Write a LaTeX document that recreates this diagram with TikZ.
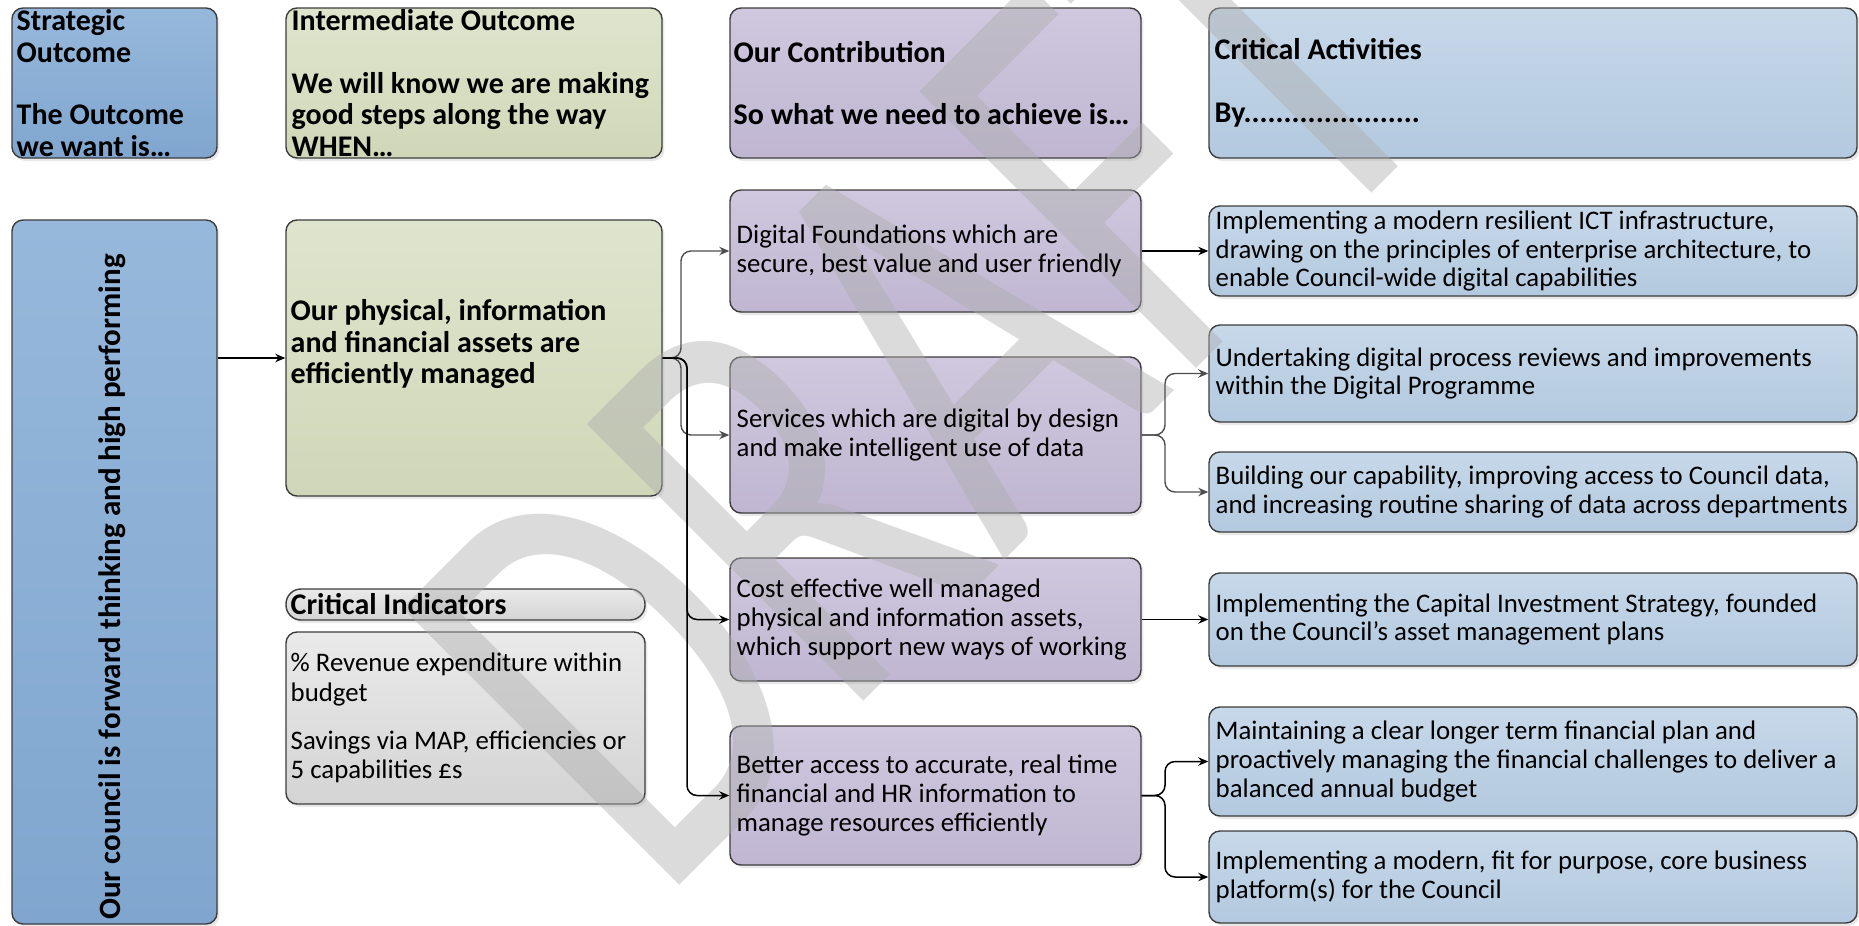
\documentclass[tikz,border=0pt]{standalone}
\usepackage{fontspec}
\usepackage{graphicx}
\setmainfont{Carlito}
\usetikzlibrary{arrows.meta,shadows,calc}
\definecolor{soT}{HTML}{96B8DB}
\definecolor{soB}{HTML}{80A6CF}
\definecolor{grT}{HTML}{DFE5CD}
\definecolor{grB}{HTML}{D0D7B8}
\definecolor{puT}{HTML}{CFC8DE}
\definecolor{puB}{HTML}{C0B6D2}
\definecolor{blT}{HTML}{C7D8E9}
\definecolor{blB}{HTML}{B3C9DF}
\definecolor{gyT}{HTML}{EAEAEA}
\definecolor{gyB}{HTML}{D4D4D4}
\definecolor{bordc}{HTML}{3C3C3C}
\definecolor{congray}{HTML}{4D4D4D}
\definecolor{wmc}{HTML}{ADADAD}
\tikzset{
  bx/.style={draw=bordc, line width=0.7pt, rounded corners=5.5pt, inner sep=0pt,
    drop shadow={shadow xshift=1.2pt, shadow yshift=-1.5pt, opacity=0.18}},
  sobox/.style={bx, top color=soT, bottom color=soB},
  grbox/.style={bx, top color=grT, bottom color=grB},
  pubox/.style={bx, top color=puT, bottom color=puB},
  blbox/.style={bx, top color=blT, bottom color=blB},
  gybox/.style={bx, top color=gyT, bottom color=gyB},
  hdr/.style={anchor=west, align=left, inner sep=0pt, font=\fontsize{15}{15.7}\selectfont\bfseries},
  bodyt/.style={anchor=west, align=left, inner sep=0pt, font=\fontsize{13.4}{14.3}\selectfont},
  conk/.style={draw=black, line width=0.75pt, rounded corners=5pt, -{Stealth[length=5pt,width=4.2pt]}},
  cong/.style={conk, draw=congray, line width=0.7pt},
}
\begin{document}
\begin{tikzpicture}[x=0.5pt,y=-0.5pt]
\useasboundingbox (0,0) rectangle (1859,926);
% header boxes
\node[sobox, minimum width=102.5pt, minimum height=75pt] (SH) at (114.5,83) {};
\node[grbox, minimum width=188pt, minimum height=75pt] (IH) at (474,83) {};
\node[pubox, minimum width=205.5pt, minimum height=75pt] (CH) at (935.5,83) {};
\node[blbox, minimum width=324pt, minimum height=75pt] (AH) at (1533,83) {};
% main boxes
\node[sobox, minimum width=102.5pt, minimum height=352pt] (SO) at (114.5,572) {};
\node[grbox, minimum width=188pt, minimum height=138pt] (IO) at (474,358) {};
\node[gybox, rounded corners=7.5pt, minimum width=179.5pt, minimum height=15.5pt] (CIt) at (465.5,604.5) {};
\node[gybox, minimum width=179.5pt, minimum height=86pt] (CIb) at (465.5,718) {};
\node[pubox, minimum width=205.5pt, minimum height=61pt] (P1) at (935.5,251) {};
\node[pubox, minimum width=205.5pt, minimum height=78pt] (P2) at (935.5,435) {};
\node[pubox, minimum width=205.5pt, minimum height=61.5pt] (P3) at (935.5,619.5) {};
\node[pubox, minimum width=205.5pt, minimum height=69.5pt] (P4) at (935.5,795.5) {};
\node[blbox, minimum width=324pt, minimum height=45pt] (B1) at (1533,251) {};
\node[blbox, minimum width=324pt, minimum height=48.5pt] (B2) at (1533,373.5) {};
\node[blbox, minimum width=324pt, minimum height=40pt] (B3) at (1533,492) {};
\node[blbox, minimum width=324pt, minimum height=46.5pt] (B4) at (1533,619.5) {};
\node[blbox, minimum width=324pt, minimum height=54.5pt] (B5) at (1533,761.5) {};
\node[blbox, minimum width=324pt, minimum height=46pt] (B6) at (1533,877) {};
% watermark
\node[rotate=45, anchor=base west, inner sep=0pt, font=\fontsize{305}{305}\selectfont, text=wmc, opacity=0.44] (WM) at (659,906) {\scalebox{0.69}[1]{DRAFT}};
% connectors
\coordinate (tA) at (681,0);
\coordinate (tB) at (687,0);
\coordinate (tC) at (1165,0);
\draw[conk] (SO.east |- IO.west) -- (IO.west);
\draw[cong] (IO.east) -| (tA |- P1.west) -- (P1.west);
\draw[cong] (IO.east) -| (tA |- P2.west) -- (P2.west);
\draw[conk] (IO.east) -| (tB |- P3.west) -- (P3.west);
\draw[conk] (IO.east) -| (tB |- P4.west) -- (P4.west);
\draw[conk] (P1.east) -- (P1.east -| B1.west);
\draw[cong] (P2.east) -| (tC |- B2.west) -- (B2.west);
\draw[cong] (P2.east) -| (tC |- B3.west) -- (B3.west);
\draw[conk] (P3.east) -- (P3.east -| B4.west);
\draw[conk] (P4.east) -| (tC |- B5.west) -- (B5.west);
\draw[conk] (P4.east) -| (tC |- B6.west) -- (B6.west);
% texts
\node[hdr] (SHt) at ([xshift=2.5pt]SH.west) {Strategic\\Outcome\\[15.7pt]The Outcome\\we want is…};
\node[hdr] (IHt) at ([xshift=3pt]IH.west) {Intermediate Outcome\\[15.7pt]We will know we are making\\good steps along the way\\WHEN…};
\node[hdr] (CHt) at ([xshift=2pt]CH.west) {Our Contribution\\[15.7pt]So what we need to achieve is…};
\node[hdr] (AHt) at ([xshift=3pt]AH.west) {Critical Activities\\[15.7pt]By......................};
\node[rotate=90, anchor=base, inner sep=0pt, font=\fontsize{15.5}{18}\selectfont\bfseries] (SOt) at ([xshift=2.75pt,yshift=-7.5pt]SO.center) {Our council is forward thinking and high performing};
\node[hdr] (IOt) at ([xshift=2.5pt,yshift=7pt]IO.west) {Our physical, information\\and financial assets are\\efficiently managed};
\node[hdr] (CItt) at ([xshift=2.5pt]CIt.west) {Critical Indicators};
\node[bodyt, font=\fontsize{13.4}{14.8}\selectfont] (CIbt) at ([xshift=2.5pt]CIb.west) {\% Revenue expenditure within\\budget\\[9.2pt]Savings via MAP, efficiencies or\\5 capabilities £s};
\node[bodyt] (P1t) at ([xshift=3.5pt]P1.west) {Digital Foundations which are\\secure, best value and user friendly};
\node[bodyt] (P2t) at ([xshift=3.5pt]P2.west) {Services which are digital by design\\and make intelligent use of data};
\node[bodyt] (P3t) at ([xshift=3.5pt]P3.west) {Cost effective well managed\\physical and information assets,\\which support new ways of working};
\node[bodyt] (P4t) at ([xshift=3.5pt]P4.west) {Better access to accurate, real time\\financial and HR information to\\manage resources efficiently};
\node[bodyt] (B1t) at ([xshift=3.5pt]B1.west) {Implementing a modern resilient ICT infrastructure,\\drawing on the principles of enterprise architecture, to\\enable Council-wide digital capabilities};
\node[bodyt] (B2t) at ([xshift=3.5pt]B2.west) {Undertaking digital process reviews and improvements\\within the Digital Programme};
\node[bodyt] (B3t) at ([xshift=3.5pt]B3.west) {Building our capability, improving access to Council data,\\and increasing routine sharing of data across departments};
\node[bodyt] (B4t) at ([xshift=3.5pt]B4.west) {Implementing the Capital Investment Strategy, founded\\on the Council’s asset management plans};
\node[bodyt] (B5t) at ([xshift=3.5pt]B5.west) {Maintaining a clear longer term financial plan and\\proactively managing the financial challenges to deliver a\\balanced annual budget};
\node[bodyt] (B6t) at ([xshift=3.5pt]B6.west) {Implementing a modern, fit for purpose, core business\\platform(s) for the Council};
\end{tikzpicture}
\end{document}
